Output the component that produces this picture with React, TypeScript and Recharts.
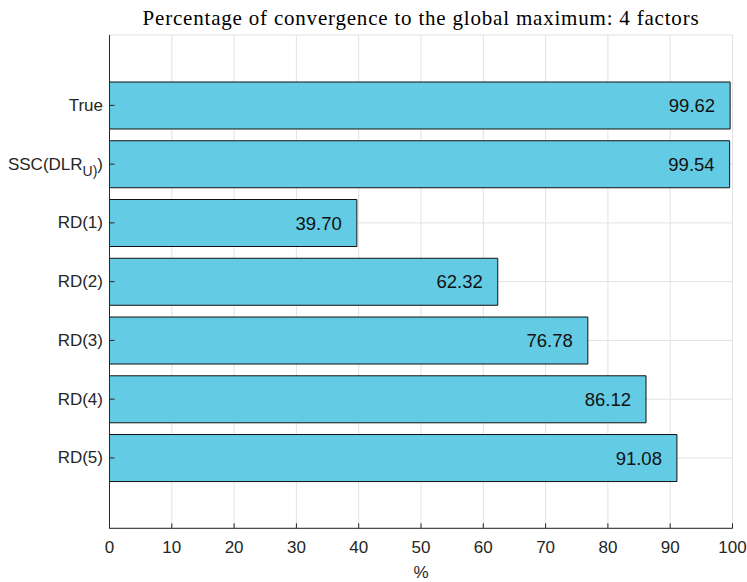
import React from 'react';
import { BarChart, Bar, XAxis, YAxis, CartesianGrid, LabelList } from 'recharts';

const categories = ['True', 'SSC(DLR_U)', 'RD(1)', 'RD(2)', 'RD(3)', 'RD(4)', 'RD(5)'];
const values = [99.62, 99.54, 39.7, 62.32, 76.78, 86.12, 91.08];
const xTicks = [0, 10, 20, 30, 40, 50, 60, 70, 80, 90, 100];
const titleText = 'Percentage of convergence to the global maximum: 4 factors';

const data = categories.map((name, i) => ({ name, value: values[i] }));

const AXIS = '#262626';
const SANS = '"Liberation Sans", Arial, Helvetica, sans-serif';

const YTick = (props: any) => {
  const { x, y, payload } = props;
  const v: string = payload.value;
  if (v.includes('_')) {
    const [base, sub] = v.split('_');
    return (
      <text x={x} y={y} textAnchor="end" dominantBaseline="central" fontSize={17} fill={AXIS} fontFamily={SANS}>
        <tspan>{base}</tspan>
        <tspan dy={7} fontSize={14}>{sub}</tspan>
        <tspan dy={-7}>)</tspan>
      </text>
    );
  }
  return (
    <text x={x} y={y} textAnchor="end" dominantBaseline="central" fontSize={17} fill={AXIS} fontFamily={SANS}>
      {v}
    </text>
  );
};

const Empty = () => <g />;

export default function App() {
  return (
    <div style={{ position: 'absolute', left: 0, top: 0, width: 747, height: 582, overflow: 'hidden' }}>
      <BarChart
        width={747}
        height={582}
        data={data}
        layout="vertical"
        margin={{ top: 35, right: 14.5, left: 0, bottom: 23.7 }}
      >
        <text
          x={421}
          y={25}
          textAnchor="middle"
          fontFamily='"Liberation Serif", "Times New Roman", serif'
          fontSize={21}
          fill="#000"
          letterSpacing={0.8}
        >
          {titleText}
        </text>
        <CartesianGrid stroke="#e2e2e2" strokeWidth={1} />
        <XAxis
          type="number"
          domain={[0, 100]}
          ticks={xTicks}
          interval={0}
          height={30}
          tickSize={-5}
          tickMargin={17.7}
          axisLine={{ stroke: AXIS }}
          tickLine={{ stroke: AXIS }}
          tick={{ fontSize: 17, fill: AXIS, fontFamily: SANS }}
          label={{ value: '%', position: 'bottom', offset: 8, fontSize: 17, fill: AXIS, fontFamily: SANS }}
        />
        <XAxis
          xAxisId="t"
          orientation="top"
          type="number"
          domain={[0, 100]}
          ticks={xTicks}
          interval={0}
          height={0}
          tickSize={-5}
          axisLine={{ stroke: AXIS }}
          tickLine={{ stroke: AXIS }}
          tick={Empty}
        />
        <YAxis
          type="category"
          dataKey="name"
          width={109.5}
          padding={{ top: 41, bottom: 41 }}
          tickSize={-5}
          tickMargin={11.5}
          interval={0}
          axisLine={{ stroke: AXIS }}
          tickLine={{ stroke: AXIS }}
          tick={YTick}
        />
        <YAxis
          yAxisId="r"
          orientation="right"
          type="category"
          dataKey="name"
          width={0}
          padding={{ top: 41, bottom: 41 }}
          tickSize={-5}
          interval={0}
          axisLine={{ stroke: AXIS }}
          tickLine={{ stroke: AXIS }}
          tick={Empty}
        />
        <Bar dataKey="value" fill="#64CBE5" stroke="#111" strokeWidth={1} barSize={47} isAnimationActive={false}>
          <LabelList
            dataKey="value"
            position="insideRight"
            offset={15}
            formatter={(v: any) => Number(v).toFixed(2)}
            style={{ fontSize: 18.5, fill: '#111', fontFamily: SANS }}
          />
        </Bar>
      </BarChart>
    </div>
  );
}
